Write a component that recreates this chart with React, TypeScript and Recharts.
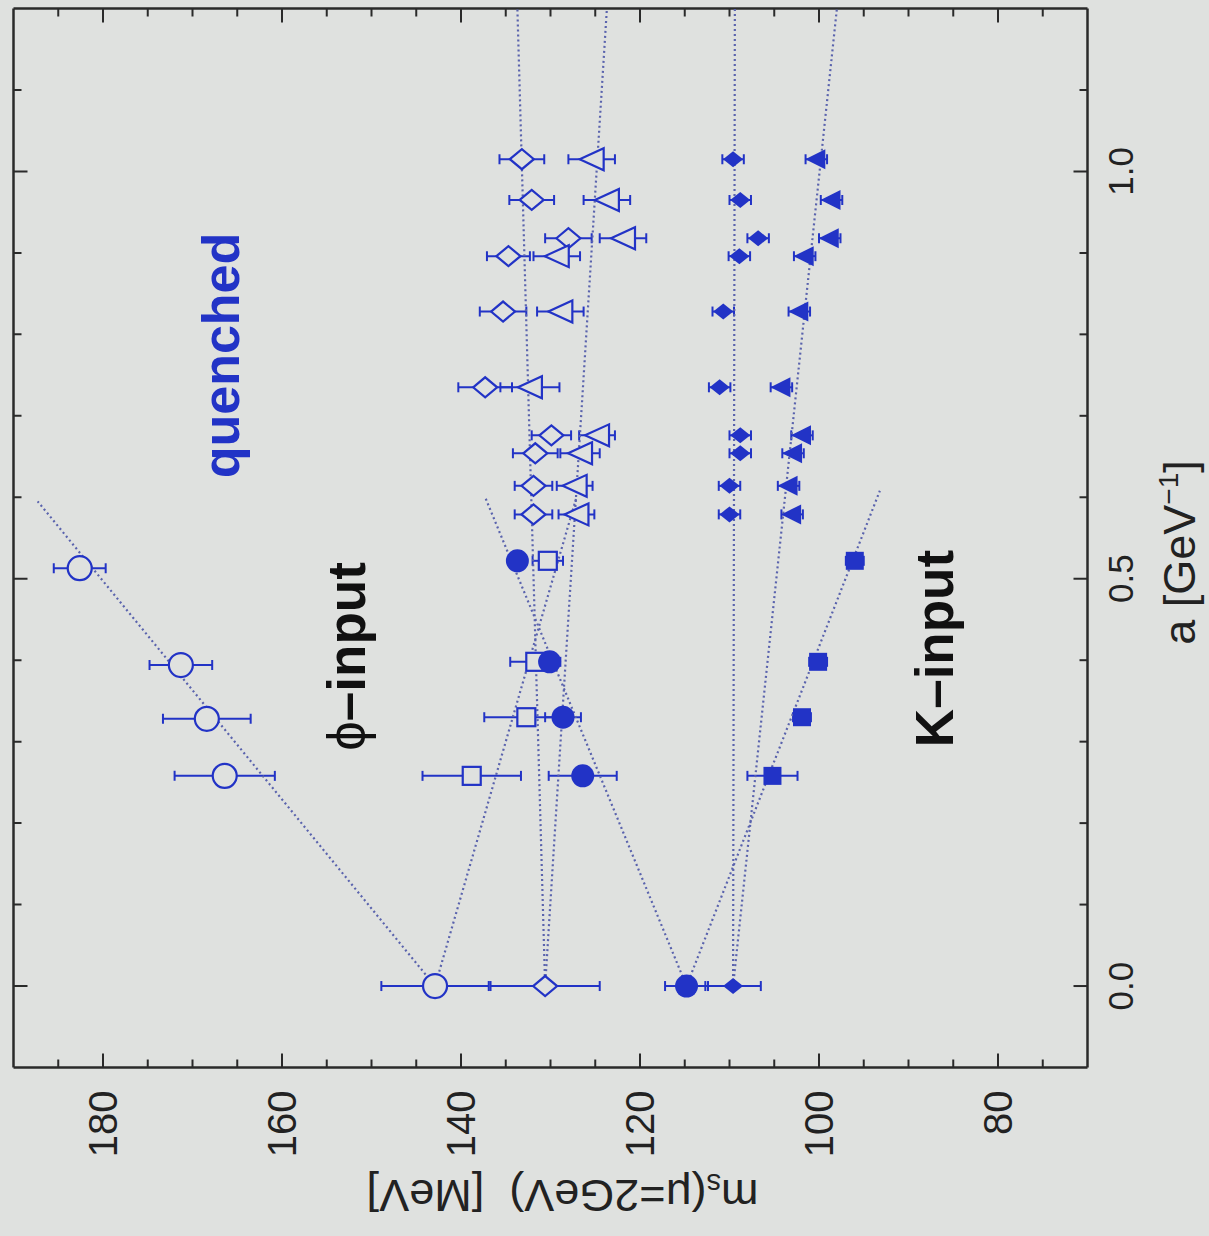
import React from 'react';
import { ScatterChart, Scatter, XAxis, YAxis, ErrorBar } from 'recharts';

// ---------------- data (a in GeV^-1, m_s in MeV) ----------------
// continuum (a = 0) extrapolations
const contA = [0];
const contOpenCircleM = [142.9];
const contOpenCircleE = [6.0];
const contOpenDiamondM = [130.6];
const contOpenDiamondE = [6.1];
const contFilledCircleM = [114.8];
const contFilledCircleE = [2.4];
const contFilledDiamondM = [109.6];
const contFilledDiamondE = [3.1];

// standard action lattices
const aOpenCircle = [0.258, 0.328, 0.394, 0.513];
const mOpenCircle = [166.4, 168.4, 171.3, 182.6];
const eOpenCircle = [5.6, 4.9, 3.5, 2.9];

const aStd = [0.258, 0.33, 0.398, 0.522];
const mOpenSquare = [138.8, 132.7, 131.7, 130.3];
const eOpenSquare = [5.5, 4.7, 2.8, 1.7];
const mFilledCircle = [126.4, 128.6, 130.1, 133.7];
const eFilledCircle = [3.8, 2.0, 1.0, 1.0];
const mFilledSquare = [105.2, 101.9, 100.1, 96.0];
const eFilledSquare = [2.8, 1.0, 1.0, 1.0];

// improved action lattices
const aImp = [1.015, 0.965, 0.918, 0.896, 0.828, 0.735, 0.676, 0.654, 0.614, 0.579];
const mOpenDiamond = [133.2, 132.1, 128.0, 134.7, 135.3, 137.3, 129.9, 131.7, 131.9, 131.9];
const eOpenDiamond = [2.5, 2.5, 2.6, 2.4, 2.6, 3.0, 2.2, 2.5, 2.1, 2.1];
const mOpenTriangle = [125.4, 123.7, 121.9, 129.3, 128.9, 132.3, 124.8, 126.7, 127.3, 127.1];
const eOpenTriangle = [2.6, 2.6, 2.6, 2.6, 2.6, 3.3, 2.0, 2.2, 2.0, 2.0];
const mFilledDiamond = [109.6, 108.8, 106.8, 108.9, 110.7, 111.1, 108.8, 108.8, 110.0, 110.0];
const eFilledDiamond = [1.2, 1.2, 1.2, 1.2, 1.2, 1.2, 1.2, 1.2, 1.2, 1.2];
const mFilledTriangle = [100.3, 98.6, 98.8, 101.6, 102.2, 104.2, 101.9, 102.9, 103.4, 103.0];
const eFilledTriangle = [1.2, 1.2, 1.2, 1.2, 1.2, 1.2, 1.2, 1.2, 1.2, 1.2];

// fit lines (end points)
const fitOpenCircleA = [0, 0.595];
const fitOpenCircleM = [142.9, 187.3];
const fitOpenSquareA = [0, 0.6];
const fitOpenSquareM = [142.9, 127.1];
const fitFilledCircleA = [0, 0.6];
const fitFilledCircleM = [114.8, 137.3];
const fitFilledSquareA = [0, 0.608];
const fitFilledSquareM = [114.8, 93.2];
const fitOpenDiamondA = [0, 1.2];
const fitOpenDiamondM = [130.6, 133.7];
const fitOpenTriangleA = [0, 1.2];
const fitOpenTriangleM = [130.6, 123.7];
const fitFilledDiamondA = [0, 1.2];
const fitFilledDiamondM = [109.6, 109.4];
const fitFilledTriangleA = [0, 1.2];
const fitFilledTriangleM = [109.6, 98.0];

// axes
const aDomain = [-0.1, 1.2];
const mDomain = [70, 190];
const aTicks = [0, 0.1, 0.2, 0.3, 0.4, 0.5, 0.6, 0.7, 0.8, 0.9, 1.0, 1.1];
const aMajor = [0, 0.5, 1.0];
const aTickLabels = ['0.0', '0.5', '1.0'];
const mTicks = [75, 80, 85, 90, 95, 100, 105, 110, 115, 120, 125, 130, 135, 140, 145, 150, 155, 160, 165, 170, 175, 180, 185];
const mMajor = [80, 100, 120, 140, 160, 180];
const mTickLabels = ['80', '100', '120', '140', '160', '180'];

// ---------------- styling ----------------
const BG = '#dfe1df';
const BLUE = '#2233c6';
const FIT = '#5a63ad';
const FRAME = '#2a2a2a';
const FONT = "'Liberation Sans', Arial, Helvetica, sans-serif";

const pts = (as: number[], ms: number[], es?: number[]) =>
  ms.map((m, i) => ({ a: as.length === 1 ? as[0] : as[i], m, e: es ? es[i] : 0 }));

const fitLine = (as: number[], ms: number[]) => as.map((a, i) => ({ a, m: ms[i] }));

// ---------------- marker shapes ----------------
const OpenCircle = (p: any) => (
  <circle cx={p.cx} cy={p.cy} r={12} fill={BG} stroke={BLUE} strokeWidth={2.2} />
);
const FilledCircle = (p: any) => <circle cx={p.cx} cy={p.cy} r={11.5} fill={BLUE} />;
const OpenSquare = (p: any) => (
  <rect x={p.cx - 9} y={p.cy - 9} width={18} height={18} fill={BG} stroke={BLUE} strokeWidth={2.2} />
);
const FilledSquare = (p: any) => (
  <rect x={p.cx - 9} y={p.cy - 9} width={18} height={18} fill={BLUE} />
);
const OpenDiamond = (p: any) => (
  <polygon
    points={`${p.cx},${p.cy - 12} ${p.cx + 10},${p.cy} ${p.cx},${p.cy + 12} ${p.cx - 10},${p.cy}`}
    fill={BG}
    stroke={BLUE}
    strokeWidth={2.2}
  />
);
const FilledDiamond = (p: any) => (
  <polygon
    points={`${p.cx},${p.cy - 10} ${p.cx + 8},${p.cy} ${p.cx},${p.cy + 10} ${p.cx - 8},${p.cy}`}
    fill={BLUE}
  />
);
const OpenTriangle = (p: any) => (
  <polygon
    points={`${p.cx},${p.cy - 12} ${p.cx + 11},${p.cy + 12} ${p.cx - 11},${p.cy + 12}`}
    fill={BG}
    stroke={BLUE}
    strokeWidth={2.2}
  />
);
const FilledTriangle = (p: any) => (
  <polygon
    points={`${p.cx},${p.cy - 11} ${p.cx + 10},${p.cy + 9} ${p.cx - 10},${p.cy + 9}`}
    fill={BLUE}
  />
);
const NoShape = () => <g />;

// ---------------- ticks ----------------
const isIn = (arr: number[], v: number) => arr.findIndex((t) => Math.abs(t - v) < 1e-6);

const makeTick = (side: 'bottom' | 'top' | 'left' | 'right') => (props: any) => {
  const { x, y, payload } = props;
  const v = payload.value;
  const horizontal = side === 'bottom' || side === 'top';
  const majors = horizontal ? aMajor : mMajor;
  const idx = isIn(majors, v);
  const len = idx >= 0 ? 14 : 8;
  let line: any = null;
  let label: any = null;
  if (side === 'bottom') {
    line = <line x1={x} y1={y} x2={x} y2={y - len} stroke={FRAME} strokeWidth={2} />;
    if (idx >= 0)
      label = (
        <text x={x} y={y + 33} textAnchor="middle" dominantBaseline="central" fontSize={35} fontFamily={FONT} fill="#222">
          {aTickLabels[idx]}
        </text>
      );
  } else if (side === 'top') {
    line = <line x1={x} y1={y} x2={x} y2={y + len} stroke={FRAME} strokeWidth={2} />;
  } else if (side === 'left') {
    line = <line x1={x} y1={y} x2={x + len} y2={y} stroke={FRAME} strokeWidth={2} />;
    if (idx >= 0)
      label = (
        <text x={x - 23} y={y} textAnchor="end" dominantBaseline="central" fontSize={40} fontFamily={FONT} fill="#222">
          {mTickLabels[idx]}
        </text>
      );
  } else {
    line = <line x1={x} y1={y} x2={x - len} y2={y} stroke={FRAME} strokeWidth={2} />;
  }
  return (
    <g>
      {line}
      {label}
    </g>
  );
};

const axisLine = { stroke: FRAME, strokeWidth: 2.5 };
const fitStyle = { stroke: FIT, strokeWidth: 2.2, strokeDasharray: '2 3' };

const Err = () => <ErrorBar dataKey="e" direction="y" width={5} stroke={BLUE} strokeWidth={2} />;

export default function App() {
  return (
    <div
      style={{
        position: 'fixed',
        left: 0,
        top: 0,
        width: 1209,
        height: 1236,
        background: BG,
        overflow: 'hidden',
        fontFamily: FONT,
      }}
    >
      <div
        style={{
          position: 'absolute',
          left: -13.5,
          top: 13.5,
          width: 1236,
          height: 1209,
          transform: 'rotate(-90deg)',
          transformOrigin: '50% 50%',
        }}
      >
        <ScatterChart width={1236} height={1209} margin={{ top: 12, right: 7, bottom: 0, left: 0 }}>
          <XAxis
            type="number"
            dataKey="a"
            domain={aDomain}
            allowDataOverflow
            ticks={aTicks}
            interval={0}
            height={122}
            tickSize={0}
            tickMargin={0}
            tickLine={false}
            axisLine={axisLine}
            tick={makeTick('bottom')}
          />
          <XAxis
            xAxisId="top"
            orientation="top"
            type="number"
            dataKey="a"
            domain={aDomain}
            allowDataOverflow
            ticks={aTicks}
            interval={0}
            height={1}
            tickSize={0}
            tickMargin={0}
            tickLine={false}
            axisLine={axisLine}
            tick={makeTick('top')}
          />
          <YAxis
            type="number"
            dataKey="m"
            domain={mDomain}
            allowDataOverflow
            ticks={mTicks}
            interval={0}
            width={169}
            tickSize={0}
            tickMargin={0}
            tickLine={false}
            axisLine={axisLine}
            tick={makeTick('left')}
          />
          <YAxis
            yAxisId="right"
            orientation="right"
            type="number"
            dataKey="m"
            domain={mDomain}
            allowDataOverflow
            ticks={mTicks}
            interval={0}
            width={1}
            tickSize={0}
            tickMargin={0}
            tickLine={false}
            axisLine={axisLine}
            tick={makeTick('right')}
          />

          {/* invisible series binding the mirror axes */}
          <Scatter
            xAxisId="top"
            yAxisId="right"
            data={pts(contA, contOpenCircleM)}
            shape={NoShape}
            isAnimationActive={false}
          />

          {/* fit lines */}
          <Scatter data={fitLine(fitOpenCircleA, fitOpenCircleM)} line={fitStyle} shape={NoShape} isAnimationActive={false} />
          <Scatter data={fitLine(fitOpenSquareA, fitOpenSquareM)} line={fitStyle} shape={NoShape} isAnimationActive={false} />
          <Scatter data={fitLine(fitFilledCircleA, fitFilledCircleM)} line={fitStyle} shape={NoShape} isAnimationActive={false} />
          <Scatter data={fitLine(fitFilledSquareA, fitFilledSquareM)} line={fitStyle} shape={NoShape} isAnimationActive={false} />
          <Scatter data={fitLine(fitOpenDiamondA, fitOpenDiamondM)} line={fitStyle} shape={NoShape} isAnimationActive={false} />
          <Scatter data={fitLine(fitOpenTriangleA, fitOpenTriangleM)} line={fitStyle} shape={NoShape} isAnimationActive={false} />
          <Scatter data={fitLine(fitFilledDiamondA, fitFilledDiamondM)} line={fitStyle} shape={NoShape} isAnimationActive={false} />
          <Scatter data={fitLine(fitFilledTriangleA, fitFilledTriangleM)} line={fitStyle} shape={NoShape} isAnimationActive={false} />

          {/* standard action */}
          <Scatter data={pts(aOpenCircle, mOpenCircle, eOpenCircle)} shape={OpenCircle} isAnimationActive={false}>
            {Err()}
          </Scatter>
          <Scatter data={pts(aStd, mOpenSquare, eOpenSquare)} shape={OpenSquare} isAnimationActive={false}>
            {Err()}
          </Scatter>
          <Scatter data={pts(aStd, mFilledCircle, eFilledCircle)} shape={FilledCircle} isAnimationActive={false}>
            {Err()}
          </Scatter>
          <Scatter data={pts(aStd, mFilledSquare, eFilledSquare)} shape={FilledSquare} isAnimationActive={false}>
            {Err()}
          </Scatter>

          {/* improved action */}
          <Scatter data={pts(aImp, mOpenDiamond, eOpenDiamond)} shape={OpenDiamond} isAnimationActive={false}>
            {Err()}
          </Scatter>
          <Scatter data={pts(aImp, mOpenTriangle, eOpenTriangle)} shape={OpenTriangle} isAnimationActive={false}>
            {Err()}
          </Scatter>
          <Scatter data={pts(aImp, mFilledDiamond, eFilledDiamond)} shape={FilledDiamond} isAnimationActive={false}>
            {Err()}
          </Scatter>
          <Scatter data={pts(aImp, mFilledTriangle, eFilledTriangle)} shape={FilledTriangle} isAnimationActive={false}>
            {Err()}
          </Scatter>

          {/* continuum limits */}
          <Scatter data={pts(contA, contOpenCircleM, contOpenCircleE)} shape={OpenCircle} isAnimationActive={false}>
            {Err()}
          </Scatter>
          <Scatter data={pts(contA, contOpenDiamondM, contOpenDiamondE)} shape={OpenDiamond} isAnimationActive={false}>
            {Err()}
          </Scatter>
          <Scatter data={pts(contA, contFilledCircleM, contFilledCircleE)} shape={FilledCircle} isAnimationActive={false}>
            {Err()}
          </Scatter>
          <Scatter data={pts(contA, contFilledDiamondM, contFilledDiamondE)} shape={FilledDiamond} isAnimationActive={false}>
            {Err()}
          </Scatter>
        </ScatterChart>

        {/* axis titles */}
        <div
          style={{
            position: 'absolute',
            left: 43,
            top: 562,
            transform: 'translate(-50%,-50%) rotate(-90deg)',
            fontSize: 45,
            lineHeight: 1,
            whiteSpace: 'nowrap',
            color: '#222',
          }}
        >
          m<sub style={{ fontSize: 29, verticalAlign: '-0.2em' }}>s</sub>(μ=2GeV)&nbsp;&nbsp;[MeV]
        </div>
        <div
          style={{
            position: 'absolute',
            left: 684,
            top: 1178,
            transform: 'translate(-50%,-50%)',
            fontSize: 45,
            lineHeight: 1,
            whiteSpace: 'nowrap',
            color: '#222',
          }}
        >
          a [GeV<sup style={{ fontSize: 28, verticalAlign: '0.6em' }}>−1</sup>]
        </div>

        {/* annotations */}
        <div
          style={{
            position: 'absolute',
            left: 881,
            top: 220,
            transform: 'translate(-50%,-50%)',
            fontSize: 52,
            fontWeight: 'bold',
            lineHeight: 1,
            whiteSpace: 'nowrap',
            color: BLUE,
          }}
        >
          quenched
        </div>
        <div
          style={{
            position: 'absolute',
            left: 580,
            top: 346,
            transform: 'translate(-50%,-50%)',
            fontSize: 53,
            fontWeight: 'bold',
            lineHeight: 1,
            whiteSpace: 'nowrap',
            color: '#111',
          }}
        >
          <span style={{ fontWeight: 'normal' }}>ϕ</span>–input
        </div>
        <div
          style={{
            position: 'absolute',
            left: 588,
            top: 934,
            transform: 'translate(-50%,-50%)',
            fontSize: 53,
            fontWeight: 'bold',
            lineHeight: 1,
            whiteSpace: 'nowrap',
            color: '#111',
          }}
        >
          K–input
        </div>
      </div>
    </div>
  );
}
